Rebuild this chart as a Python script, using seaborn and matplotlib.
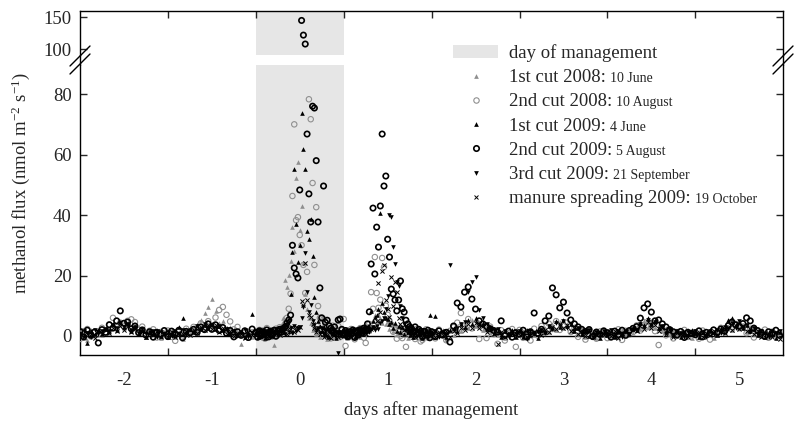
import numpy as np
import matplotlib
matplotlib.use('Agg')
import matplotlib.pyplot as plt
from matplotlib.lines import Line2D
from matplotlib.patches import Patch
import seaborn as sns

# time axis (days after management): hourly, half-hourly on day 0 and day 1
t = np.concatenate([-2.5 + np.arange(48) / 24,
                    -0.5 + np.arange(96) / 48,
                    1.5 + np.arange(96) / 24])

# methanol flux (nmol m-2 s-1), one row per day (two rows for day 0 and day 1)
cut1_2008 = [
    1.4, -0.6, -1.2, 2.1, 0.3, 1.7, 0.2, 2.6, 1.1, 3.9, 2.4, 5.1, 2.8, 4.6, 1.9, 3.3, 0.9, 2.2, -0.3, 1.5, 0.6, 2.0, -0.8, 1.2,
    0.1, 1.9, -0.5, 1.3, -0.9, 2.2, 0.6, 2.9, 1.8, 5.2, 7.5, 9.6, 12.2, 8.1, 4.3, 5.0, 1.7, 2.9, 0.4, 1.6, -2.6, 1.1, 2.0, -0.2,
    1.5, -0.4, 0.9, 2.0, -0.7, 1.2, 0.3, 1.8, -0.2, 1.4, -3.0, 0.6, 2.7, 0.8, 3.6, 6.0, 18.5, 16.2, 20.2, 24.8, 36.0, 28.0, 52.2, 57.5,
    35.0, 43.0, 24.0, 14.0, 9.0, 6.0, 4.2, 1.9, 3.4, 0.8, 2.3, -0.4, 1.6, 0.2, 2.1, -0.9, 1.3, 0.5, 1.9, -0.3, 1.0, 2.2, 0.1, 1.4,
    0.2, 1.7, -0.6, 1.1, 2.0, -0.1, 1.5, 0.4, 2.3, -0.5, 1.2, 2.6, 0.9, 3.1, 1.8, 8.6, 5.2, 6.8, 4.9, 7.2, 5.8, 4.4, 6.1, 3.9,
    5.0, 2.4, 4.1, 1.6, 3.5, 0.8, 2.9, 1.1, 2.2, 0.3, 1.8, -0.7, 1.4, 0.6, 2.0, -0.2, 1.2, 0.9, -0.5, 1.7, 0.4, 1.3, -0.8, 0.7,
    1.2, -0.4, 0.8, 1.9, -0.9, 1.5, 0.4, 2.7, 1.6, 4.1, 2.8, 5.2, 3.3, 4.5, 2.0, 3.6, 1.1, 2.4, 0.2, 1.4, -0.6, 1.0, 1.8, 0.3,
    0.5, 1.8, -0.7, 1.3, 0.2, 2.0, 0.9, 2.5, 1.4, 3.8, 2.1, 4.6, 2.7, 3.9, 1.6, 3.0, 0.7, 2.2, -0.2, 1.5, 0.6, -0.8, 1.2, 0.4,
    1.6, 0.1, 1.0, -0.5, 1.9, 0.6, 2.2, 1.1, 3.3, 2.4, 4.8, 3.1, 5.0, 2.6, 3.7, 1.5, 2.5, 0.8, 1.7, -0.1, 1.2, 0.3, 2.0, -0.6,
    0.8, -0.3, 1.5, 0.4, 2.1, -0.7, 1.3, 2.4, 1.0, 3.2, 2.0, 4.1, 2.6, 3.5, 1.4, 2.8, 0.6, 1.9, 0.1, 1.2, -0.4, 1.6, 0.5, 1.1]

cut2_2008 = [
    -1.0, 1.6, 2.3, -0.2, 1.4, 0.5, 2.7, 1.2, 3.8, 6.0, 2.9, 4.4, 3.1, 5.0, 5.5, 4.6, 2.0, 3.1, 0.4, 1.7, 2.2, -0.5, 1.3, 0.6,
    1.8, -0.3, -1.6, 1.5, 0.2, 2.4, 1.0, 3.0, 1.9, 4.2, 2.8, 4.9, 3.3, 6.1, 8.6, 9.6, 7.0, 4.8, 2.2, 3.0, 0.4, 1.7, -0.6, 1.2,
    1.3, -0.5, 2.0, 0.4, 1.8, -0.9, 2.6, 0.7, 1.9, -0.2, 1.5, 2.4, 0.3, 2.9, 1.1, 3.0, 4.0, 6.0, 9.0, 14.0, 46.3, 70.0, 38.3, 39.3,
    33.4, 30.0, 23.5, 14.2, 21.2, 78.3, 71.7, 50.6, 23.5, 42.6, 9.9, 6.0, 4.0, 5.6, 3.1, 1.2, 2.6, -0.8, 3.4, 0.9, 2.1, 3.3, -0.4, 1.9,
    5.6, -3.3, 1.8, -0.4, 2.3, 0.6, -1.1, 1.9, 0.2, 2.6, 1.0, -0.6, -2.3, 2.8, 4.0, 14.5, 9.0, 26.1, 14.2, 9.3, 12.0, 25.8, 22.8, 10.0,
    7.0, 5.0, 3.8, 1.4, 2.9, -0.9, 2.2, 0.0, -0.7, 1.6, -3.6, 0.5, 2.0, -0.2, 1.4, -1.0, 2.3, 0.8, -1.8, -1.3, 1.1, 2.2, -0.4, 1.0,
    1.5, -0.8, 2.1, 0.3, -1.4, 1.7, 2.9, 4.4, 7.6, 3.2, 5.6, 2.5, 4.0, -1.0, 2.4, -0.7, 3.1, 0.6, -2.6, 1.9, -1.5, 0.9, 2.3, -3.6,
    2.0, -0.6, 1.2, -1.5, 2.4, 0.1, 3.3, 1.0, 4.1, 2.3, 4.9, 2.0, 3.4, 4.4, 1.3, 2.7, -0.3, 1.6, -1.2, 2.2, 0.4, -0.9, 1.5, 0.7,
    -0.7, 1.4, 0.3, 2.2, -1.3, 1.7, 0.5, 2.6, 3.5, 1.8, 4.6, 2.9, 4.0, 1.6, -3.0, 2.5, 0.2, 1.9, -0.8, 1.3, 0.6, 2.0, -0.3, 1.1,
    1.2, -0.9, 1.8, 0.4, -1.2, 2.0, 0.8, 2.7, 1.4, 3.5, 2.2, 4.0, 2.6, 3.1, 0.9, 2.4, -0.5, 1.6, 0.3, 2.1, -0.6, 1.4, 0.2, 1.0]

cut1_2009 = [
    1.1, 0.2, -2.3, 1.6, 0.5, 2.0, 0.7, 2.4, 1.5, 3.9, 2.1, 4.6, 3.0, 3.8, 1.7, 2.9, 0.6, 1.9, -0.4, 1.3, 0.8, 1.7, -0.1, 1.0,
    -0.3, 1.4, 0.5, 3.0, 6.0, 1.2, 2.3, 1.4, 3.6, 2.2, 4.0, 2.7, 3.9, 2.4, 3.3, 1.9, 2.8, 0.8, 1.9, 0.2, 1.3, -0.5, 1.0, 7.3,
    1.4, -0.2, 1.8, 0.6, 2.1, -0.6, 1.3, 0.4, 1.9, 0.1, 1.6, 2.4, 0.5, 2.0, 3.1, 3.0, 3.8, 4.6, 6.0, 14.0, 27.8, 55.2, 37.0, 24.5,
    30.0, 73.7, 61.8, 55.2, 34.7, 32.0, 38.7, 26.4, 12.9, 8.0, 5.0, 3.4, 1.6, 3.0, 0.9, 2.3, -0.4, 1.7, 0.6, 2.0, -0.8, 1.3, 0.2, 1.8,
    0.3, 1.9, -0.5, 1.4, 0.7, 2.2, -0.2, 1.7, 0.5, 2.4, 1.2, 2.9, 1.5, 3.4, 2.2, 8.3, 5.0, 6.2, 7.0, 9.0, 40.6, 10.9, 8.0, 6.1,
    5.6, 3.9, 4.6, 2.7, 4.3, 1.8, 3.4, 1.2, 2.9, 0.7, 2.3, 1.4, 0.4, 1.9, -0.3, 1.3, 2.1, 0.6, 1.5, -0.6, 1.1, 1.9, 0.3, 6.9,
    1.2, 6.6, 0.2, 1.6, -0.4, 1.9, 2.5, 1.6, 4.0, 3.1, 5.3, 3.8, 5.8, 4.1, 4.4, 2.2, 2.9, 0.9, 1.8, -0.2, 1.5, 0.5, 1.9, -0.5,
    1.5, -0.3, 1.9, 0.2, 1.4, -0.6, 2.0, 1.2, 3.4, 2.5, 4.9, 3.0, 5.4, 3.3, 4.0, 1.8, 2.7, 0.6, 1.8, -0.1, 1.4, 0.7, -0.7, 1.3,
    0.2, 1.6, -0.5, 1.3, 0.9, 2.0, 0.7, 2.7, 2.0, 4.4, 3.6, 6.1, 4.0, 5.0, 2.7, 3.2, 1.2, 2.5, 0.3, 1.5, -0.2, 1.4, 0.8, 1.9,
    1.0, -0.4, 1.4, 0.3, 1.7, 1.2, 0.4, 2.6, 2.4, 5.2, 5.8, 3.6, 4.6, 2.7, 3.5, 1.5, 2.2, 0.4, 1.5, -0.3, 1.3, 0.8, -0.6, 1.2]

cut2_2009 = [
    1.5, -0.3, 1.9, 0.2, 1.3, -2.3, 2.1, 1.2, 3.7, 2.6, 5.0, 8.3, 4.2, 4.6, 2.4, 3.3, 1.1, 2.0, 0.3, 1.4, -0.4, 1.2, 0.5, 1.8,
    -0.2, 1.6, 0.4, 1.9, -0.6, 1.5, 1.0, 2.2, 1.2, 3.0, 2.1, 4.0, 2.2, 3.7, 1.8, 2.8, 0.9, 1.8, -0.3, 1.4, 0.2, 1.7, -0.5, 2.3,
    1.2, -0.4, 1.7, 0.1, 1.4, 0.6, 2.0, -0.3, 1.5, 0.4, 1.9, -0.1, 1.6, 2.2, 1.3, 2.4, 3.0, 4.3, 5.3, 6.9, 30.0, 22.5, 20.5, 19.2,
    48.3, 145.0, 122.0, 108.0, 66.8, 47.0, 37.7, 76.0, 75.4, 58.0, 37.7, 15.9, 6.0, 49.6, 4.5, 5.2, 3.4, 2.6, 1.8, 3.0, 0.7, 5.3, 5.6, 2.2,
    0.4, 1.8, -0.2, 1.3, 0.7, 2.0, -0.5, 1.5, 0.3, 2.1, 0.9, 2.6, 1.7, 4.0, 8.0, 23.8, 42.3, 20.5, 36.0, 29.4, 43.0, 66.8, 49.6, 52.9,
    32.0, 26.1, 15.5, 13.9, 11.9, 8.3, 11.9, 18.2, 9.0, 7.9, 5.2, 4.0, 3.1, 2.5, 1.2, 3.0, 0.6, 2.2, 1.6, -0.2, 1.5, 0.3, 1.9, -0.6,
    1.4, -0.2, 1.7, 0.3, 1.2, -2.0, 3.3, 10.9, 9.6, 14.5, 16.2, 12.2, 8.9, 5.0, 4.0, 3.1, 2.4, 1.8, 1.3, 5.0, 0.2, 1.6, -0.4, 1.1,
    0.6, 1.9, -0.3, 1.4, 7.6, 0.9, 2.2, 5.0, 6.6, 15.9, 13.6, 9.3, 11.2, 7.6, 5.3, 4.0, 3.0, 2.2, 1.5, 2.1, -0.2, 1.3, 0.5, 1.7,
    1.1, -0.4, 1.6, 0.4, 1.9, 0.2, 1.8, 2.5, 3.1, 5.9, 9.3, 10.6, 7.9, 5.0, 5.3, 4.0, 3.0, 2.1, 1.4, 0.3, 1.5, -0.5, 1.2, 0.8,
    0.4, 1.7, -0.3, 1.2, 0.9, 2.0, 1.1, 2.3, 1.6, 3.4, 4.6, 3.7, 3.2, 4.1, 6.0, 5.0, 2.6, 1.8, 1.2, -0.1, 1.4, 0.6, 1.9, 0.2]

cut3_2009 = [
    0.3, 1.7, 0.9, -0.4, 2.0, 0.6, 1.5, 2.4, 1.6, 3.5, 2.8, 4.2, 3.0, 4.0, 2.1, 3.0, 1.1, 2.2, 0.5, 1.3, 1.8, -0.2, 1.2, 0.7,
    1.3, -0.1, 1.6, 0.5, 1.9, 0.3, 2.0, 1.4, 3.2, 2.3, 4.1, 2.6, 3.5, 2.6, 3.4, 1.5, 2.4, 0.8, 1.7, 0.1, 1.4, 1.9, -0.3, 1.0,
    1.6, 0.2, 1.9, -0.4, 1.2, 0.7, 1.8, 0.1, 1.5, 2.0, 0.4, 2.2, 0.9, 2.4, 1.2, 2.5, 0.8, 2.9, 1.3, 2.6, 1.1, 3.2, 1.5, 2.5,
    3.0, 6.0, 9.6, 27.4, 14.5, 8.0, 10.2, 5.0, 3.6, 2.0, 2.8, 0.9, 2.5, 0.3, 1.9, -0.2, 1.6, 0.8, 2.1, 0.1, 1.2, -5.5, 1.4, 0.5,
    1.7, 0.1, 1.4, -0.3, 2.0, 0.8, 1.9, 0.4, 2.3, 0.9, 1.7, 2.5, 1.0, 2.7, 1.4, 2.2, 3.1, 2.0, 3.3, 2.4, 4.3, 5.0, 6.0, 9.0,
    13.2, 40.0, 39.5, 29.4, 23.8, 18.0, 16.5, 10.0, 6.0, 4.0, 3.0, 2.4, 1.1, 2.7, 0.6, 2.1, -0.1, 1.6, 0.7, 2.0, 0.2, 1.5, -0.4, 1.2,
    0.2, 1.6, -0.3, 1.4, 0.7, 23.5, 1.9, 2.8, 3.9, 4.6, 14.5, 17.9, 19.5, 8.6, 6.0, 4.0, 2.8, 1.9, 2.3, 0.4, 1.6, -0.2, 1.3, 0.8,
    1.5, 0.3, -1.0, 1.8, 0.6, 1.3, 2.1, 1.0, 3.3, 2.2, 4.3, 3.2, 4.9, 2.8, 3.8, 1.5, 2.6, 0.5, 1.6, 1.9, -0.2, 1.3, 0.6, 1.7,
    0.8, 1.9, 0.1, 1.5, -0.4, 1.7, 0.8, 2.4, 1.9, 4.0, 3.1, 5.4, 3.6, 4.6, 2.3, 3.4, 1.1, 2.3, 0.2, 1.6, 0.9, -0.3, 1.4, 0.6,
    1.6, 0.2, 1.3, -0.5, 1.8, 0.5, 2.0, 1.1, 3.0, 2.2, 4.4, 2.7, 5.1, 2.6, 3.6, 1.4, 2.5, 0.3, 1.7, 0.6, -0.2, 1.5, 0.9, 1.8]

manure_2009 = [
    0.9, -0.2, 1.3, 0.5, -0.6, 1.6, 0.8, 1.9, 0.9, 2.8, 1.7, 3.4, 2.1, 3.2, 1.3, 2.4, 0.5, 1.6, -0.3, 1.1, 0.4, 1.5, -0.5, 0.9,
    0.2, 1.3, -0.4, 1.0, 0.5, 1.7, 0.3, 2.0, 1.1, 3.0, 2.0, 3.7, 2.3, 3.5, 1.4, 2.5, 0.7, 1.6, -0.1, 1.0, 0.6, -0.7, 1.2, 0.3,
    1.1, -0.3, 0.8, 1.5, 0.1, 1.2, -0.5, 0.9, 1.6, 0.2, 1.4, 0.7, 1.9, 0.4, 1.7, 1.0, 2.3, 0.8, 2.5, 1.4, 2.9, 1.2, 3.1, 2.0,
    3.0, 11.6, 10.2, 24.0, 11.9, 7.0, 6.3, 4.0, 2.5, 1.2, 2.3, 0.6, 1.9, -0.4, 1.5, 0.3, 1.7, -0.6, 1.1, 0.5, 1.4, -0.2, 0.9, 1.3,
    -0.1, 1.2, 0.5, 1.6, -0.4, 1.3, 0.8, 1.8, 0.2, 1.5, 1.1, 2.1, 0.7, 2.4, 1.9, 2.4, 2.8, 3.0, 5.0, 17.5, 8.0, 21.5, 23.5, 12.0,
    9.0, 6.3, 19.5, 10.0, 17.9, 14.5, 6.0, 4.0, 3.0, 2.0, 2.5, 0.9, 2.1, 0.4, 1.6, -0.3, 1.3, 0.6, 1.8, -0.5, 1.0, 0.3, 1.4, 0.1,
    1.0, -0.4, 1.4, 0.3, 1.7, -0.2, 1.6, 0.9, 2.8, 2.0, 3.9, 2.5, 4.3, 2.6, 3.3, 1.4, 2.1, 0.5, -2.5, 1.2, -0.3, 1.1, 0.6, 1.5,
    0.4, 1.3, -0.5, 1.0, 0.7, 1.6, 0.2, 2.0, 1.3, 3.1, 2.2, 3.8, 2.6, 3.7, 1.8, 2.6, 0.6, 1.7, 0.1, 1.2, -0.4, 1.4, 0.8, 0.3,
    1.2, 0.0, 1.5, -0.6, 0.9, 1.3, 0.6, 2.1, 1.5, 3.4, 2.3, 4.5, 2.7, 3.6, 1.6, 2.5, 0.7, 1.8, -0.2, 1.1, 0.5, 1.6, -0.4, 0.8,
    0.6, 1.4, -0.2, 1.1, 0.3, 1.7, 0.4, 1.9, 1.0, 2.9, 2.1, 3.4, 2.3, 3.2, 1.5, 2.4, 0.5, 1.5, -0.3, 1.0, 0.7, -0.5, 1.2, -1.0]

labels = ['day of management', '1st cut 2008:', '2nd cut 2008:', '1st cut 2009:',
          '2nd cut 2009:', '3rd cut 2009:', 'manure spreading 2009:']
dates = ['10 June', '10 August', '4 June', '5 August', '21 September', '19 October']

gray = '#8f8f8f'
shade = '#e6e6e6'

sns.set_style('ticks')
plt.rcParams['font.family'] = ['Liberation Serif', 'DejaVu Serif']
plt.rcParams['axes.unicode_minus'] = False
plt.rcParams['mathtext.fontset'] = 'custom'
plt.rcParams['mathtext.rm'] = 'Liberation Serif'
plt.rcParams['mathtext.it'] = 'Liberation Serif:italic'

fig = plt.figure(figsize=(8, 4.34), dpi=100)
ax_top = fig.add_axes([0.1, 0.873, 0.879, 0.101])
ax = fig.add_axes([0.1, 0.182, 0.879, 0.668])

styles = [
    (cut1_2008, dict(marker='^', s=11, color=gray, linewidth=0)),
    (cut2_2008, dict(marker='o', s=15, facecolor='none', edgecolor=gray, linewidth=0.8)),
    (cut1_2009, dict(marker='^', s=11, color='black', linewidth=0)),
    (cut2_2009, dict(marker='o', s=15, facecolor='none', edgecolor='black', linewidth=1.2)),
    (cut3_2009, dict(marker='v', s=11, color='black', linewidth=0)),
    (manure_2009, dict(marker='x', s=9, color='black', linewidth=0.7)),
]

for a in (ax, ax_top):
    a.axvspan(-0.5, 0.5, color=shade, zorder=0, linewidth=0)
    for vals, kw in styles:
        sns.scatterplot(x=t, y=np.array(vals), ax=a, legend=False, zorder=3, **kw)
    a.set_xlim(-2.5, 5.5)
    a.set_xlabel('')
    a.set_ylabel('')
    a.set_xticks(range(-2, 6))
    a.set_xticks(np.arange(-1.5, 5.0, 1.0), minor=True)
    a.tick_params(axis='y', which='both', direction='in', length=5, left=True, right=True,
                  labelsize=13.5, pad=6, width=1)
    for sp in a.spines.values():
        sp.set_linewidth(1.0)
        sp.set_color('black')
        sp.set_visible(True)

ax.axhline(0, color='black', linewidth=1.0, zorder=2)
ax.set_ylim(-6.3, 89.6)
ax.set_yticks([0, 20, 40, 60, 80])
ax.spines['top'].set_visible(False)
ax.tick_params(axis='x', which='major', length=0, labelsize=13.5, pad=12)
ax.tick_params(axis='x', which='minor', direction='in', length=5, bottom=True, top=False, width=1)

ax_top.set_ylim(90.6, 159.4)
ax_top.set_yticks([100, 150])
ax_top.spines['bottom'].set_visible(False)
ax_top.tick_params(axis='x', which='major', length=0, labelbottom=False, bottom=False)
ax_top.tick_params(axis='x', which='minor', direction='in', length=5, bottom=False, top=True, width=1)

# join the spines over the gap and draw the break marks
H = 434.0
W = 800.0
for xp in (80.0, 783.0):
    fig.add_artist(Line2D([xp / W, xp / W], [1 - 55 / H, 1 - 65 / H], color='black', lw=1.0))
    for dy in (-4, 4):
        yc = 60 + dy
        fig.add_artist(Line2D([(xp - 10) / W, (xp + 10) / W], [1 - (yc + 10) / H, 1 - (yc - 10) / H],
                              color='black', lw=1.0))

fig.text(21 / W, 1 - 183 / H, r'methanol flux (nmol m$^{\mathrm{-2}}$ s$^{\mathrm{-1}}$)',
         rotation=90, ha='center', va='center', fontsize=13.5)
fig.text(431 / W, 1 - 410 / H, 'days after management', ha='center', va='center', fontsize=13.5)

handles = [Patch(facecolor=shade, edgecolor='none'),
           Line2D([], [], marker='^', ls='none', color=gray, markersize=3.4, markeredgewidth=0),
           Line2D([], [], marker='o', ls='none', markerfacecolor='none', markeredgecolor=gray,
                  markersize=3.9, markeredgewidth=0.8),
           Line2D([], [], marker='^', ls='none', color='black', markersize=3.4, markeredgewidth=0),
           Line2D([], [], marker='o', ls='none', markerfacecolor='none', markeredgecolor='black',
                  markersize=3.9, markeredgewidth=1.2),
           Line2D([], [], marker='v', ls='none', color='black', markersize=3.4, markeredgewidth=0),
           Line2D([], [], marker='x', ls='none', color='black', markersize=3.0, markeredgewidth=0.7)]

leg = fig.legend(handles, labels, loc='upper left', bbox_to_anchor=(453 / W, 1 - 44 / H),
                 frameon=False, fontsize=13.5, handlelength=2.4, handletextpad=0.6,
                 labelspacing=0.38, borderpad=0, borderaxespad=0)

fig.canvas.draw()
for txt, d in zip(leg.get_texts()[1:], dates):
    bb = txt.get_window_extent()
    fig.text((bb.x1 + 4) / fig.bbox.width, (bb.y0 + 1) / fig.bbox.height, d,
             fontsize=10, ha='left', va='bottom')

fig.savefig('out.png', dpi=100)
